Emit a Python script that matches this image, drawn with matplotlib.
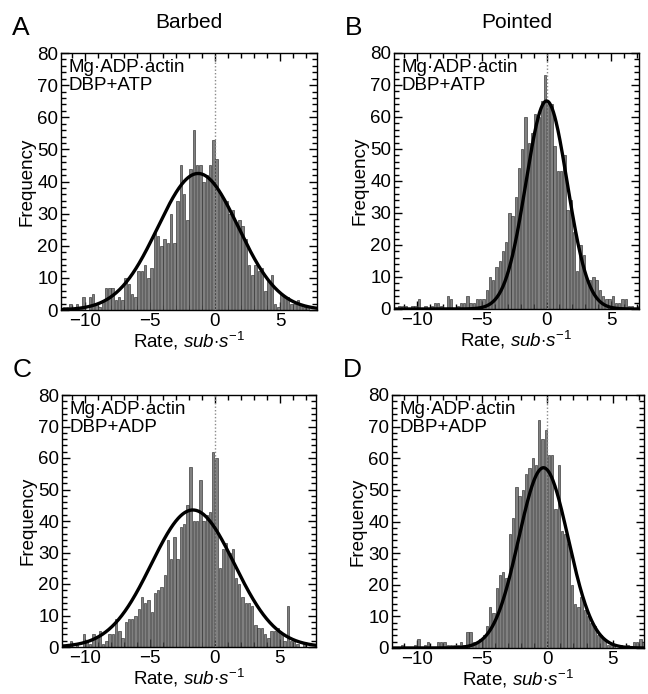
import numpy as np
import matplotlib
matplotlib.use("Agg")
import matplotlib.pyplot as plt
from matplotlib.ticker import MultipleLocator

plt.rcParams['font.family'] = ['Liberation Sans', 'DejaVu Sans']
plt.rcParams['mathtext.fontset'] = 'custom'
plt.rcParams['mathtext.rm'] = 'Liberation Sans'
plt.rcParams['mathtext.it'] = 'Liberation Sans:italic'

bin_width = 0.25
bin_start = -11.875  # first bin centre

counts_A = [0, 1, 1, 2, 0, 2, 1, 4, 0, 4, 5, 2, 1, 3, 7, 7, 7, 3, 4, 3,
            10, 8, 5, 4, 12, 12, 14, 10, 13, 24, 23, 20, 22, 21, 30, 21, 34, 45, 36, 28,
            44, 56, 45, 45, 40, 42, 45, 53, 47, 36, 35, 34, 30, 31, 27, 28, 26, 22, 14, 11,
            14, 12, 13, 6, 9, 11, 2, 1, 5, 4, 4, 2, 2, 3, 2, 1, 1, 0, 0, 0]
counts_B = [0, 0, 1, 1, 1, 0, 1, 1, 3, 0, 1, 0, 1, 2, 2, 1, 0, 4, 3, 0,
            1, 2, 2, 4, 2, 2, 3, 3, 3, 6, 10, 9, 13, 15, 18, 21, 30, 29, 35, 44,
            50, 60, 52, 55, 61, 60, 65, 73, 64, 64, 51, 43, 43, 48, 31, 34, 24, 12, 20, 17,
            9, 9, 10, 9, 6, 4, 3, 3, 4, 2, 2, 3, 3, 1, 1, 0, 1, 0, 0, 0]
counts_C = [0, 0, 0, 2, 0, 1, 0, 4, 2, 1, 4, 3, 5, 1, 2, 4, 4, 9, 5, 3,
            8, 9, 9, 10, 12, 16, 14, 15, 11, 17, 18, 19, 23, 34, 28, 35, 28, 38, 39, 45,
            57, 40, 40, 53, 40, 42, 43, 62, 60, 25, 31, 33, 30, 31, 22, 20, 16, 14, 14, 13,
            7, 6, 6, 4, 3, 5, 5, 6, 4, 2, 13, 2, 2, 1, 0, 1, 0, 0, 0, 0]
counts_D = [0, 0, 0, 1, 0, 0, 0, 1, 3, 0, 1, 2, 0, 0, 2, 2, 2, 1, 1, 1,
            1, 2, 1, 5, 5, 2, 2, 3, 4, 7, 13, 11, 19, 23, 24, 22, 36, 41, 51, 48,
            50, 55, 57, 60, 58, 72, 66, 69, 61, 61, 44, 58, 37, 36, 33, 20, 14, 13, 16, 12,
            10, 8, 7, 4, 4, 3, 1, 1, 1, 0, 1, 0, 1, 0, 2, 2, 3, 2, 0, 0]

# Gaussian fit parameters (amplitude, centre, width)
fit_A = (42.5, -1.3, 3.1)
fit_B = (65.0, 0.0, 1.6)
fit_C = (43.5, -1.7, 3.2)
fit_D = (57.0, -0.3, 1.9)

letters = ['A', 'B', 'C', 'D']
titles = ['Barbed', 'Pointed', None, None]
conditions = ['Mg·ADP·actin\nDBP+ATP', 'Mg·ADP·actin\nDBP+ATP',
              'Mg·ADP·actin\nDBP+ADP', 'Mg·ADP·actin\nDBP+ADP']
xlims = [(-11.85, 7.85), (-11.8, 7.15), (-11.8, 7.8), (-11.9, 7.4)]

W, H = 648, 694
fig = plt.figure(figsize=(W / 100, H / 100), dpi=100)
# axes boxes in pixels: left, right, top, bottom
boxes = [(61, 317, 53, 310), (394, 639, 53, 309), (62, 316, 395, 647), (392, 644, 395, 648)]

all_counts = [counts_A, counts_B, counts_C, counts_D]
all_fits = [fit_A, fit_B, fit_C, fit_D]

for i in range(4):
    l, r, t, b = boxes[i]
    ax = fig.add_axes([l / W, 1 - b / H, (r - l) / W, (b - t) / H])
    counts = np.array(all_counts[i])
    centres = bin_start + bin_width * np.arange(len(counts))
    ax.bar(centres, counts, width=bin_width * 0.72, color='#808080',
           edgecolor='#303030', linewidth=0.45, zorder=2)
    ax.axvline(0, color='#8a8a8a', linestyle=(0, (1, 1.5)), linewidth=1.0, zorder=3)
    amp, mu, sig = all_fits[i]
    xs = np.linspace(-12, 8, 400)
    ax.plot(xs, amp * np.exp(-(xs - mu) ** 2 / (2 * sig ** 2)), color='black',
            linewidth=2.4, zorder=4)
    ax.set_xlim(*xlims[i])
    ax.set_ylim(0, 80)
    ax.xaxis.set_major_locator(MultipleLocator(5))
    ax.xaxis.set_minor_locator(MultipleLocator(1))
    ax.yaxis.set_major_locator(MultipleLocator(10))
    ax.yaxis.set_minor_locator(MultipleLocator(2))
    ax.tick_params(which='both', direction='in', top=True, right=True,
                   labelsize=13.5, pad=2, width=1.0)
    ax.tick_params(which='major', length=6)
    ax.tick_params(which='minor', length=3.5)
    for s in ax.spines.values():
        s.set_linewidth(1.0)
    ax.set_ylabel('Frequency', fontsize=13.5, labelpad=1)
    ax.set_xlabel('Rate, $\\mathit{sub{\\cdot}s}^{-1}$', fontsize=13.5, labelpad=0)
    ax.text(0.03, 0.975, conditions[i], transform=ax.transAxes, ha='left',
            va='top', fontsize=13.5, linespacing=1.05, zorder=5)
    # panel letter
    fig.text((l - 49) / W, 1 - (t - 25) / H, letters[i], fontsize=19,
             ha='left', va='center')
    if titles[i]:
        fig.text(((l + r) / 2) / W, 1 - 22 / H, titles[i], fontsize=15,
                 ha='center', va='center')

fig.savefig('out.png', dpi=100)
